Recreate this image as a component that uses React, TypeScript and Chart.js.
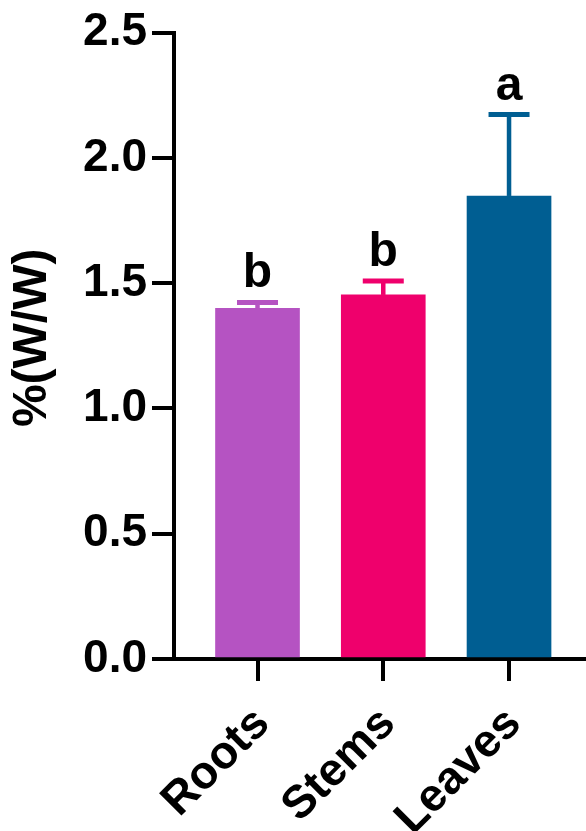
import React, { useEffect, useRef } from "react";
import { Chart, registerables } from "chart.js";

Chart.register(...registerables);

// ---- Data ----
const categories = ["Roots", "Stems", "Leaves"];
const means = [1.4, 1.453, 1.848];
const errors = [0.023, 0.056, 0.325];
const letters = ["b", "b", "a"];
const barColors = ["#B553C2", "#EF006C", "#005E92"];
const yTicks = [0, 0.5, 1.0, 1.5, 2.0, 2.5];
const yTitle = "%(W/W)";

const FONT = "'Liberation Sans', Arial, Helvetica, sans-serif";

const errorBarPlugin = {
  id: "errorBars",
  afterDatasetsDraw(chart: any) {
    const { ctx } = chart;
    const x = chart.scales.x;
    const y = chart.scales.y;
    ctx.save();
    categories.forEach((_, i) => {
      const px = x.getPixelForValue(i);
      const yMean = y.getPixelForValue(means[i]);
      const yTop = y.getPixelForValue(means[i] + errors[i]);
      ctx.strokeStyle = barColors[i];
      ctx.lineWidth = 4.5;
      ctx.beginPath();
      ctx.moveTo(px, yMean);
      ctx.lineTo(px, yTop);
      ctx.stroke();
      ctx.lineWidth = 5;
      ctx.beginPath();
      ctx.moveTo(px - 20.5, yTop);
      ctx.lineTo(px + 20.5, yTop);
      ctx.stroke();
      ctx.fillStyle = "#000";
      ctx.font = `bold 48px ${FONT}`;
      ctx.textAlign = "center";
      ctx.textBaseline = "alphabetic";
      ctx.fillText(letters[i], px, yTop - 15);
    });
    ctx.restore();
  },
};

const yTitlePlugin = {
  id: "yTitle",
  afterDraw(chart: any) {
    const { ctx, chartArea } = chart;
    const cy = (chartArea.top + chartArea.bottom) / 2 - 8;
    ctx.save();
    ctx.translate(33, cy);
    ctx.rotate(-Math.PI / 2);
    ctx.fillStyle = "#000";
    ctx.font = `bold 48px ${FONT}`;
    ctx.textAlign = "center";
    ctx.textBaseline = "middle";
    ctx.fillText(yTitle, 0, 0);
    ctx.restore();
  },
};

export default function App() {
  const ref = useRef<HTMLCanvasElement>(null);

  useEffect(() => {
    if (!ref.current) return;
    const axisGrid = {
      display: true,
      drawOnChartArea: false,
      drawTicks: true,
      tickLength: 22,
      lineWidth: 4,
      color: "#000",
      offset: false,
    };
    const axisBorder = { display: true, width: 4, color: "#000" };
    const chart = new Chart(ref.current, {
      type: "bar",
      data: {
        datasets: [
          {
            data: categories.map((_, i) => ({ x: i, y: means[i] })),
            backgroundColor: barColors,
            borderWidth: 0,
            barThickness: 84,
          } as any,
        ],
      },
      options: {
        responsive: false,
        animation: false,
        devicePixelRatio: 1,
        layout: { padding: { top: 31, left: 0, right: 0, bottom: 0 } },
        plugins: {
          legend: { display: false },
          tooltip: { enabled: false },
        },
        scales: {
          x: {
            type: "linear",
            min: -0.664,
            max: 2.612,
            offset: false,
            z: 1,
            afterBuildTicks: (s: any) => {
              s.ticks = categories.map((_, i) => ({ value: i }));
            },
            afterFit: (s: any) => {
              s.height = 172;
            },
            grid: axisGrid,
            border: axisBorder,
            ticks: {
              autoSkip: false,
              maxRotation: 45,
              minRotation: 45,
              padding: 16,
              labelOffset: 5,
              color: "#000",
              font: { family: FONT, size: 46, weight: "bold" },
              callback: (v: any) => categories[v as number] ?? "",
            },
          },
          y: {
            min: 0,
            max: 2.5,
            afterBuildTicks: (s: any) => {
              s.ticks = yTicks.map((v) => ({ value: v }));
            },
            afterFit: (s: any) => {
              s.width = 174;
            },
            grid: axisGrid,
            border: axisBorder,
            ticks: {
              padding: 5,
              color: "#000",
              font: { family: FONT, size: 46, weight: "bold" },
              callback: (v: any) => Number(v).toFixed(1),
            },
            title: { display: false },
          },
        },
      } as any,
      plugins: [errorBarPlugin, yTitlePlugin],
    });
    return () => chart.destroy();
  }, []);

  return (
    <div style={{ position: "absolute", left: 0, top: 0, width: 586, height: 831 }}>
      <canvas
        ref={ref}
        width={586}
        height={831}
        style={{ display: "block", width: 586, height: 831 }}
      />
    </div>
  );
}
